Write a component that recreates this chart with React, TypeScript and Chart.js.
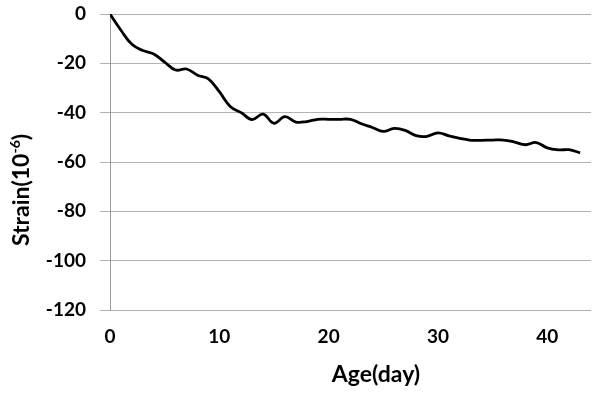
import React, { useEffect, useRef } from "react";
import { Chart, registerables } from "chart.js";

Chart.register(...registerables);

const days: number[] = [
  0, 1, 2, 3, 4, 5, 6, 7, 8, 9, 10, 11, 12, 13, 14, 15, 16, 17, 18, 19, 20, 21,
  22, 23, 24, 25, 26, 27, 28, 29, 30, 31, 32, 33, 34, 35, 36, 37, 38, 39, 40,
  41, 42, 43,
];
const strain: number[] = [
  0, -6.6, -12.3, -14.8, -16.2, -19.5, -22.7, -22.3, -24.8, -26.3, -31.5,
  -37.5, -40, -42.8, -40.6, -44.3, -41.6, -43.8, -43.6, -42.7, -42.7, -42.7,
  -42.7, -44.5, -46, -47.6, -46.4, -47.2, -49.3, -49.6, -48.2, -49.4, -50.4,
  -51.2, -51.2, -51.1, -51.1, -51.9, -53, -52.1, -54.3, -55.1, -55, -56.3,
];
const xTickValues: number[] = [0, 10, 20, 30, 40];
const yTickValues: number[] = [0, -20, -40, -60, -80, -100, -120];
const xTitle = "Age(day)";
const yTitleMain = "Strain(10";
const yTitleSup = "-6";
const yTitleEnd = ")";

const FONT = "Lato, 'Open Sans', sans-serif";

const titlePlugin = {
  id: "customTitles",
  afterDraw(chart: any) {
    const ctx = chart.ctx as CanvasRenderingContext2D;
    ctx.save();
    ctx.fillStyle = "#000";
    ctx.font = `bold 23px ${FONT}`;
    ctx.textAlign = "center";
    ctx.textBaseline = "middle";
    ctx.fillText(xTitle, 376, 375);
    const big = `bold 23px ${FONT}`;
    const small = `bold 14px ${FONT}`;
    ctx.font = big;
    const w1 = ctx.measureText(yTitleMain).width;
    const w3 = ctx.measureText(yTitleEnd).width;
    ctx.font = small;
    const w2 = ctx.measureText(yTitleSup).width;
    const total = w1 + w2 + w3;
    ctx.translate(22, 190);
    ctx.rotate(-Math.PI / 2);
    ctx.textAlign = "left";
    let x = -total / 2;
    ctx.font = big;
    ctx.fillText(yTitleMain, x, 0);
    x += w1;
    ctx.font = small;
    ctx.fillText(yTitleSup, x, -7);
    x += w2;
    ctx.font = big;
    ctx.fillText(yTitleEnd, x, 0);
    ctx.restore();
  },
};

export default function App() {
  const ref = useRef<HTMLCanvasElement | null>(null);
  useEffect(() => {
    if (!ref.current) return;
    const chart = new Chart(ref.current, {
      type: "line",
      data: {
        datasets: [
          {
            data: days.map((d, i) => ({ x: d, y: strain[i] })),
            borderColor: "#000",
            borderWidth: 2.8,
            pointRadius: 0,
            tension: 0.4,
            fill: false,
          },
        ],
      },
      options: {
        responsive: false,
        animation: false,
        layout: { padding: { left: 0, top: 14, right: 1, bottom: 0 } },
        plugins: {
          legend: { display: false },
          tooltip: { enabled: false },
        },
        scales: {
          x: {
            type: "linear",
            min: 0,
            max: 44,
            afterBuildTicks: (scale: any) => {
              scale.ticks = xTickValues.map((v) => ({ value: v }));
            },
            afterFit: (scale: any) => {
              scale.height = 84;
              scale.paddingLeft = 0;
              scale.paddingRight = 0;
            },
            grid: { display: false, drawTicks: false },
            border: { display: false },
            ticks: {
              padding: 15,
              color: "#000",
              font: { family: FONT, size: 19, weight: "bold" },
              maxRotation: 0,
            },
          },
          y: {
            type: "linear",
            min: -120,
            max: 0,
            afterBuildTicks: (scale: any) => {
              scale.ticks = yTickValues.map((v) => ({ value: v }));
            },
            afterFit: (scale: any) => {
              scale.width = 110;
              scale.paddingTop = 0;
              scale.paddingBottom = 0;
            },
            grid: {
              color: "#b3b3b3",
              lineWidth: 1,
              drawTicks: true,
              tickLength: 10,
            },
            border: { display: true, color: "#9a9a9a", width: 1 },
            ticks: {
              padding: 14,
              color: "#000",
              font: { family: FONT, size: 19, weight: "bold" },
            },
          },
        },
      },
      plugins: [titlePlugin],
    } as any);
    return () => chart.destroy();
  }, []);
  return (
    <div style={{ position: "absolute", left: 0, top: 0, width: 592, height: 394, background: "#fff" }}>
      <canvas ref={ref} width={592} height={394} style={{ display: "block" }} />
    </div>
  );
}
